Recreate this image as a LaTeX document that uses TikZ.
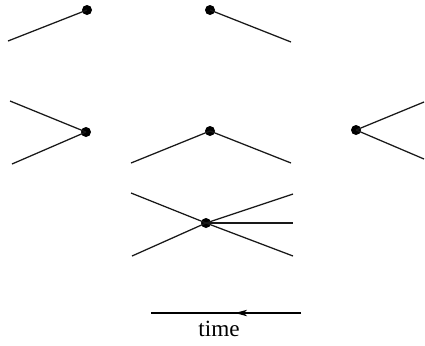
\documentclass[tikz,border=0pt]{standalone}
\usepackage{fontspec}
\setmainfont{Liberation Serif}
\usetikzlibrary{decorations.markings,arrows.meta}
\tikzset{>=latex}
\tikzstyle{vertex}=[circle,fill=black,inner sep=0pt,minimum size=0.25cm]
\tikzstyle{leg}=[line width=0.9pt,black!90]
\tikzset{
  TimeLine/.style={line width=0.9pt,decoration={markings,
                   mark=at position #1 with {\arrow{Stealth[length=0.3cm,width=0.16cm,inset=0.08cm]}}},
                   postaction={decorate}},
  TimeLine/.default=0.44}

\begin{document}
\begin{tikzpicture}[x=0.025cm,y=-0.025cm]
  \useasboundingbox (0,0) rectangle (425,345);

  % ROW 1
  \node[vertex] (v1) at (87,10) {};
  \coordinate (a1) at (8,41);
  \draw[leg] (a1) -- (v1.center);
  \node[vertex] (v2) at (210,10) {};
  \coordinate (b1) at (291,42);
  \draw[leg] (v2.center) -- (b1);

  % ROW 2
  \node[vertex] (v3) at (86,132) {};
  \coordinate (c1) at (10,101);
  \coordinate (c2) at (12,164);
  \foreach \e in {c1,c2}
    \draw[leg] (\e) -- (v3.center);
  \node[vertex] (v4) at (210,131) {};
  \coordinate (d1) at (131,163);
  \coordinate (d2) at (291,163);
  \foreach \e in {d1,d2}
    \draw[leg] (\e) -- (v4.center);
  \node[vertex] (v5) at (356,130) {};
  \coordinate (f1) at (424,102);
  \coordinate (f2) at (424,159);
  \foreach \e in {f1,f2}
    \draw[leg] (v5.center) -- (\e);

  % ROW 3
  \node[vertex] (v6) at (206,223) {};
  \coordinate (g1) at (131,193);
  \coordinate (g2) at (132,256);
  \coordinate (h1) at (293,194);
  \coordinate (h2) at (293,223);
  \coordinate (h3) at (293,256);
  \foreach \e in {g1,g2}
    \draw[leg] (\e) -- (v6.center);
  \foreach \e in {h1,h2,h3}
    \draw[leg] (v6.center) -- (\e);

  % TIME
  \coordinate (tR) at (301,313);
  \coordinate (tL) at (151,313);
  \draw[TimeLine] (tR) -- (tL);
  \node[font=\fontsize{16.5}{18}\selectfont,inner sep=0pt] (time) at (219,329) {time};
\end{tikzpicture}
\end{document}
